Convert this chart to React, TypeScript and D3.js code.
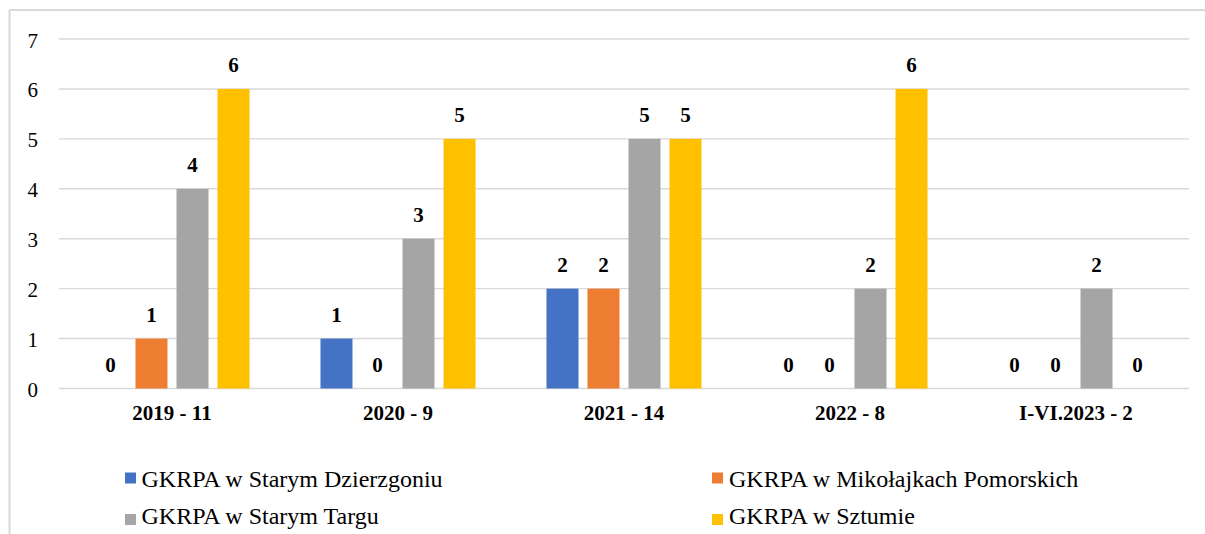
import React from "react";
import * as d3 from "d3";

const categories = ["2019 - 11", "2020 - 9", "2021 - 14", "2022 - 8", "I-VI.2023 - 2"];
const seriesNames = [
  "GKRPA w Starym Dzierzgoniu",
  "GKRPA w Mikołajkach Pomorskich",
  "GKRPA w Starym Targu",
  "GKRPA w Sztumie",
];
const dzierzgon = [0, 1, 2, 0, 0];
const mikolajki = [1, 0, 2, 0, 0];
const staryTarg = [4, 3, 5, 2, 2];
const sztum = [6, 5, 5, 6, 0];
const seriesValues = [dzierzgon, mikolajki, staryTarg, sztum];
const colors = ["#4472C4", "#ED7D31", "#A5A5A5", "#FFC000"];
const yTicks = [0, 1, 2, 3, 4, 5, 6, 7];

const W = 1205;
const H = 534;
const left = 59;
const right = 1189;
const top = 39;
const bottom = 388.5;

export default function App() {
  const y = d3.scaleLinear().domain([0, 7]).range([bottom, top]);
  const x0 = d3
    .scaleBand<string>()
    .domain(categories)
    .range([left, right])
    .paddingInner(0.314)
    .paddingOuter(0.157);
  const x1 = d3
    .scaleBand<string>()
    .domain(seriesNames)
    .range([0, x0.bandwidth()])
    .paddingInner(0.2195)
    .paddingOuter(0);

  const font = "'Liberation Serif', 'Times New Roman', serif";

  const legendPos = [
    { mx: 125, tx: 141.5, my: 472.5, ty: 486.5 },
    { mx: 712, tx: 729, my: 472.5, ty: 486.5 },
    { mx: 125, tx: 141.5, my: 514, ty: 524 },
    { mx: 712, tx: 729, my: 514, ty: 524 },
  ];

  return (
    <svg
      width={W}
      height={H}
      style={{ position: "absolute", left: 0, top: 0, background: "#fff" }}
      fontFamily={font}
    >
      <rect x={0} y={0} width={W} height={H} fill="#fff" />
      {/* outer border */}
      <line x1={9.5} x2={W} y1={10} y2={10} stroke="#d9d9d9" strokeWidth={2} />
      <line x1={9.5} x2={9.5} y1={10} y2={H} stroke="#d9d9d9" strokeWidth={2} />

      {/* gridlines */}
      {yTicks.map((t) => (
        <g key={t}>
          <line
            x1={left}
            x2={right}
            y1={y(t)}
            y2={y(t)}
            stroke="#d9d9d9"
            strokeWidth={1.4}
          />
          <text x={38} y={y(t) + 8.5} textAnchor="end" fontSize={21} fill="#000">
            {t}
          </text>
        </g>
      ))}

      {/* bars */}
      {categories.map((c, ci) => (
        <g key={c} transform={`translate(${x0(c)},0)`}>
          {seriesNames.map((s, si) => {
            const v = seriesValues[si][ci];
            const bx = x1(s)!;
            const bw = x1.bandwidth();
            return (
              <g key={s}>
                {v > 0 && (
                  <rect x={bx} y={y(v)} width={bw} height={y(0) - y(v)} fill={colors[si]} />
                )}
                <text
                  x={bx + bw / 2}
                  y={y(v) - 16.5}
                  textAnchor="middle"
                  fontSize={21}
                  fontWeight="bold"
                  fill="#000"
                >
                  {v}
                </text>
              </g>
            );
          })}
          <text
            x={x0.bandwidth() / 2}
            y={420}
            textAnchor="middle"
            fontSize={21}
            fontWeight="bold"
            fill="#000"
          >
            {c}
          </text>
        </g>
      ))}

      {/* legend */}
      {seriesNames.map((s, i) => (
        <g key={s}>
          <rect x={legendPos[i].mx} y={legendPos[i].my} width={11} height={11} fill={colors[i]} />
          <text x={legendPos[i].tx} y={legendPos[i].ty} fontSize={24} fill="#000">
            {s}
          </text>
        </g>
      ))}
    </svg>
  );
}
